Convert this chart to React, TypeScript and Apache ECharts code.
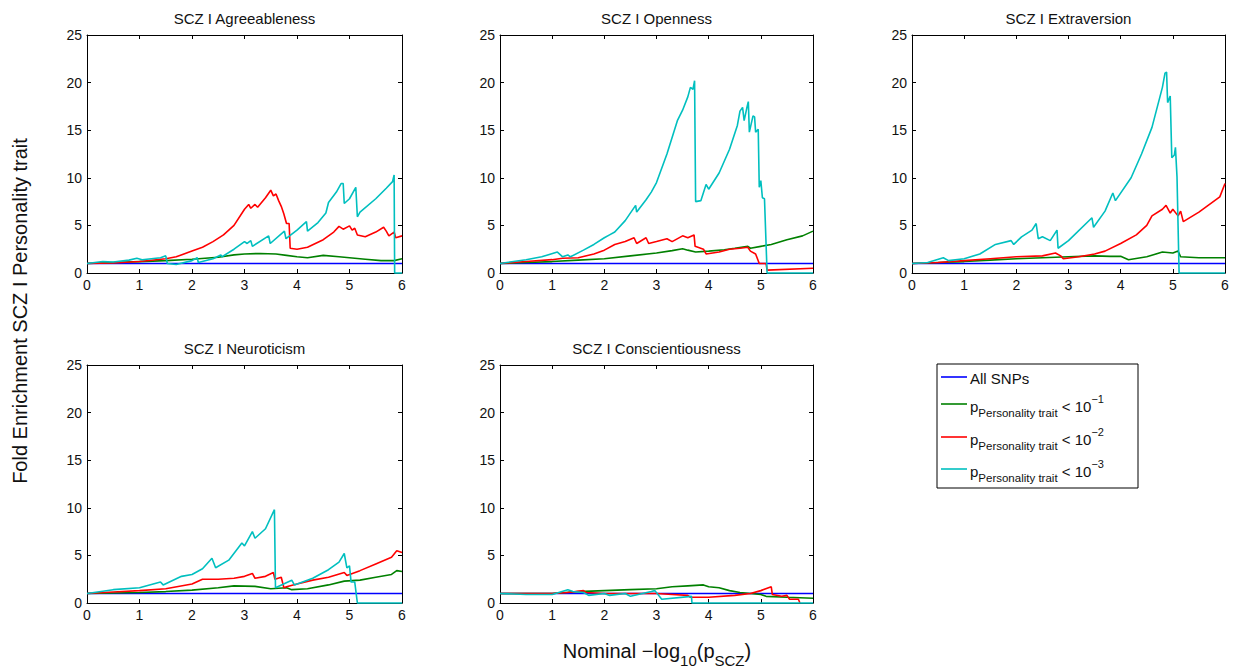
import React, { useEffect, useRef } from "react";
import * as echarts from "echarts";

const FONT = "'Liberation Sans', Arial, Helvetica, sans-serif";

const panelTitles = [
  "SCZ I Agreeableness",
  "SCZ I Openness",
  "SCZ I Extraversion",
  "SCZ I Neuroticism",
  "SCZ I Conscientiousness",
];
const xTicks = [0, 1, 2, 3, 4, 5, 6];
const yTicks = [0, 5, 10, 15, 20, 25];
const allSnps = [[0, 1], [6, 1]];

const agreeGreen = [[0,1],[0.5,1.1],[1,1.2],[1.5,1.3],[2,1.45],[2.5,1.65],[2.8,1.9],[3,2.0],[3.3,2.05],[3.6,2.0],[3.8,1.85],[4,1.7],[4.2,1.6],[4.5,1.85],[4.8,1.7],[5,1.6],[5.3,1.45],[5.6,1.3],[5.85,1.3],[6,1.5]];
const agreeRed = [[0,1],[0.5,1.05],[1,1.2],[1.5,1.5],[1.7,1.7],[2,2.3],[2.2,2.7],[2.4,3.3],[2.6,4.0],[2.8,5.0],[3,6.7],[3.08,7.2],[3.12,6.8],[3.2,7.2],[3.25,6.9],[3.4,7.9],[3.5,8.7],[3.55,8.1],[3.6,8.3],[3.65,7.6],[3.7,7.0],[3.75,6.2],[3.8,5.2],[3.85,5.2],[3.87,2.6],[4,2.5],[4.2,2.7],[4.5,3.5],[4.7,4.3],[4.8,4.9],[4.88,4.6],[5.0,4.95],[5.05,4.5],[5.1,4.7],[5.15,4.0],[5.3,3.8],[5.5,4.3],[5.65,4.8],[5.7,4.4],[5.75,3.9],[5.85,4.3],[5.88,3.7],[6,3.9]];
const agreeCyan = [[0,1],[0.3,1.2],[0.5,1.15],[0.8,1.35],[0.95,1.55],[1.05,1.4],[1.4,1.6],[1.5,1.8],[1.53,1.0],[1.7,0.9],[2.0,1.3],[2.1,1.6],[2.12,1.1],[2.4,1.5],[2.55,1.9],[2.57,1.7],[2.8,2.5],[3.0,3.3],[3.05,3.1],[3.12,3.4],[3.15,2.8],[3.46,3.9],[3.49,3.1],[3.76,4.4],[3.79,3.6],[4.0,4.5],[4.18,5.4],[4.2,4.4],[4.4,5.3],[4.55,6.3],[4.6,7.4],[4.75,8.5],[4.84,9.4],[4.88,9.4],[4.9,7.3],[5.0,7.8],[5.12,9.0],[5.15,5.9],[5.2,6.4],[5.5,7.8],[5.7,8.9],[5.82,9.6],[5.85,10.3],[5.86,0],[6,0]];

const openGreen = [[0,1],[0.5,1.1],[1,1.2],[1.5,1.35],[2,1.5],[2.5,1.8],[3,2.1],[3.3,2.35],[3.5,2.55],[3.6,2.4],[3.75,2.2],[4,2.3],[4.3,2.45],[4.5,2.6],[4.75,2.8],[4.8,2.6],[5,2.8],[5.2,3.0],[5.5,3.5],[5.8,3.9],[6,4.4]];
const openRed = [[0,1],[0.5,1.2],[1,1.4],[1.2,1.55],[1.5,1.6],[1.8,2.0],[2,2.4],[2.2,3.0],[2.4,3.3],[2.57,3.7],[2.62,3.1],[2.8,3.7],[2.85,3.1],[3.0,3.3],[3.2,3.6],[3.3,3.3],[3.5,3.9],[3.6,3.7],[3.72,4.0],[3.74,2.8],[3.9,2.5],[3.95,2.0],[4.2,2.2],[4.4,2.5],[4.6,2.6],[4.75,2.7],[4.8,2.3],[4.9,2.0],[4.97,1.0],[5.1,1.0],[5.12,0.3],[6,0.5]];
const openCyan = [[0,1],[0.5,1.4],[0.8,1.7],[1.1,2.2],[1.2,1.7],[1.3,1.9],[1.35,1.7],[1.6,2.4],[1.8,3.0],[2.0,3.7],[2.1,4.0],[2.2,4.3],[2.4,5.5],[2.6,7.1],[2.62,6.4],[2.8,7.7],[2.9,8.5],[3.0,9.5],[3.2,12.5],[3.4,16.0],[3.5,17.1],[3.6,18.5],[3.65,19.5],[3.7,19.3],[3.73,20.2],[3.75,7.5],[3.85,7.6],[3.95,9.3],[4.0,8.8],[4.2,10.5],[4.4,13.0],[4.55,15.5],[4.6,17.0],[4.65,17.4],[4.68,16.0],[4.73,17.3],[4.76,18.0],[4.78,14.8],[4.85,16.5],[4.88,16.4],[4.9,14.8],[4.95,15.1],[4.97,9.0],[5.0,9.7],[5.03,7.9],[5.07,7.8],[5.12,0],[6,0]];

const extraGreen = [[0,1],[0.5,1.1],[1,1.2],[1.5,1.35],[2,1.5],[2.5,1.6],[3,1.7],[3.5,1.8],[3.8,1.75],[4,1.75],[4.15,1.4],[4.5,1.7],[4.8,2.2],[5.0,2.1],[5.1,2.3],[5.15,1.7],[5.5,1.6],[6,1.6]];
const extraRed = [[0,1],[0.5,1.1],[1,1.3],[1.5,1.5],[2,1.7],[2.5,1.8],[2.75,2.1],[2.85,1.8],[2.9,1.5],[3.2,1.7],[3.5,2.0],[3.7,2.3],[4.0,3.1],[4.3,4.0],[4.5,5.0],[4.6,6.0],[4.8,6.7],[4.87,7.1],[4.95,6.3],[5.0,6.7],[5.1,6.0],[5.15,6.5],[5.2,5.4],[5.5,6.4],[5.9,8.0],[6,9.4]];
const extraCyan = [[0,1],[0.3,1.1],[0.6,1.6],[0.7,1.3],[1.0,1.5],[1.3,2.0],[1.6,3.0],[1.9,3.4],[1.95,3.0],[2.1,3.8],[2.3,4.5],[2.38,5.2],[2.42,3.6],[2.5,3.8],[2.65,3.4],[2.78,4.5],[2.8,2.6],[3.0,3.4],[3.45,5.8],[3.48,4.8],[3.7,6.5],[3.85,8.4],[3.9,7.6],[4.2,10.0],[4.4,12.5],[4.6,15.3],[4.8,19.5],[4.85,21.0],[4.88,21.1],[4.9,17.9],[4.95,18.6],[4.98,12.1],[5.03,12.4],[5.05,13.2],[5.08,10.1],[5.12,0],[6,0]];

const neuroGreen = [[0,1],[0.5,1.05],[1,1.1],[1.5,1.2],[2,1.35],[2.5,1.6],[2.8,1.8],[3.2,1.75],[3.5,1.5],[3.8,1.6],[3.9,1.4],[4.2,1.5],[4.6,1.9],[4.9,2.3],[5.2,2.4],[5.5,2.7],[5.8,3.0],[5.9,3.4],[6,3.3]];
const neuroRed = [[0,1],[0.5,1.15],[1,1.3],[1.5,1.5],[2,2.0],[2.2,2.5],[2.5,2.5],[2.8,2.6],[3.0,2.8],[3.15,3.1],[3.2,2.6],[3.4,2.8],[3.55,3.2],[3.58,2.5],[3.7,2.7],[3.75,1.6],[3.8,1.7],[4.0,2.0],[4.3,2.4],[4.6,2.7],[4.9,3.2],[4.95,2.9],[5.2,3.4],[5.5,4.1],[5.8,4.8],[5.9,5.5],[6,5.3]];
const neuroCyan = [[0,1],[0.5,1.4],[1.0,1.6],[1.4,2.2],[1.45,1.9],[1.8,2.8],[2.0,3.0],[2.2,3.6],[2.38,4.7],[2.45,3.7],[2.7,4.5],[2.95,6.3],[3.0,6.0],[3.15,7.5],[3.2,6.8],[3.4,7.8],[3.57,9.8],[3.59,1.6],[3.9,2.4],[3.95,1.9],[4.3,2.6],[4.6,3.5],[4.8,4.3],[4.9,5.2],[4.95,3.7],[5.0,3.9],[5.03,2.2],[5.1,2.2],[5.15,0],[6,0]];

const consGreen = [[0,1],[0.5,1.0],[1,1.0],[1.5,1.2],[2,1.3],[2.5,1.4],[3,1.5],[3.3,1.7],[3.6,1.8],[3.9,1.9],[4.0,1.7],[4.2,1.6],[4.4,1.3],[4.6,1.1],[5.0,0.9],[5.1,0.7],[5.5,0.6],[6,0.5]];
const consRed = [[0,1],[0.5,1.0],[1,1.0],[1.3,1.1],[1.6,1.3],[1.65,1.1],[2,1.0],[2.5,1.0],[3,1.0],[3.3,0.9],[3.6,0.8],[3.65,0.6],[4.0,0.6],[4.5,0.8],[4.8,1.0],[5.0,1.3],[5.2,1.7],[5.22,0.9],[5.4,0.7],[5.5,0.8],[5.55,0.4],[5.72,0.4],[5.75,0]];
const consCyan = [[0,1],[0.5,0.9],[1,0.9],[1.3,1.4],[1.4,1.2],[1.6,1.1],[1.7,0.8],[2,1.0],[2.1,0.8],[2.4,1.0],[2.5,0.7],[2.9,1.2],[2.97,1.3],[3.1,0.4],[3.67,0.7],[3.68,0],[6,0]];

const panelData = [
  [agreeGreen, agreeRed, agreeCyan],
  [openGreen, openRed, openCyan],
  [extraGreen, extraRed, extraCyan],
  [neuroGreen, neuroRed, neuroCyan],
  [consGreen, consRed, consCyan],
];

const seriesNames = ["All SNPs", "p < 10^-1", "p < 10^-2", "p < 10^-3"];
const colors = ["#0000ff", "#008000", "#ff0000", "#00bfbf"];

const grids = [
  { left: 87, top: 35, width: 315, height: 238 },
  { left: 500, top: 35, width: 313, height: 238 },
  { left: 912, top: 35, width: 313, height: 238 },
  { left: 87, top: 365, width: 315, height: 238 },
  { left: 500, top: 365, width: 313, height: 238 },
];

function buildOption() {
  const xAxis: any[] = [];
  const yAxis: any[] = [];
  const series: any[] = [];
  const graphic: any[] = [];
  const tickStyle = { color: "#000", width: 1 };
  grids.forEach((g, i) => {
    const common = {
      type: "value",
      gridIndex: i,
      splitLine: { show: false },
      axisLine: { show: true, onZero: false, lineStyle: tickStyle },
      axisTick: { show: true, inside: true, length: 4, lineStyle: tickStyle },
    };
    xAxis.push({
      ...common,
      position: "bottom",
      min: xTicks[0],
      max: xTicks[xTicks.length - 1],
      interval: 1,
      axisLabel: { fontSize: 14, color: "#111", margin: 5, fontFamily: FONT },
    });
    xAxis.push({
      ...common,
      position: "top",
      min: xTicks[0],
      max: xTicks[xTicks.length - 1],
      interval: 1,
      axisLabel: { show: false },
    });
    yAxis.push({
      ...common,
      position: "left",
      min: yTicks[0],
      max: yTicks[yTicks.length - 1],
      interval: 5,
      axisLabel: { fontSize: 14, color: "#111", margin: 5, fontFamily: FONT },
    });
    yAxis.push({
      ...common,
      position: "right",
      min: yTicks[0],
      max: yTicks[yTicks.length - 1],
      interval: 5,
      axisLabel: { show: false },
    });
    const lines = [allSnps, ...panelData[i]];
    lines.forEach((d, k) => {
      series.push({
        type: "line",
        name: seriesNames[k],
        xAxisIndex: 2 * i,
        yAxisIndex: 2 * i,
        data: d,
        showSymbol: false,
        symbol: "none",
        clip: false,
        lineStyle: { color: colors[k], width: 1.6 },
        itemStyle: { color: colors[k] },
        z: 2 + k,
      });
    });
    graphic.push({
      type: "text",
      x: g.left + g.width / 2,
      y: g.top - 17,
      style: {
        text: panelTitles[i],
        font: `15px ${FONT}`,
        fill: "#111",
        align: "center",
        verticalAlign: "middle",
        textAlign: "center",
        textVerticalAlign: "middle",
      },
    });
  });

  // y axis label
  graphic.push({
    type: "text",
    x: 20,
    y: 311,
    rotation: Math.PI / 2,
    style: {
      text: "Fold Enrichment SCZ I Personality trait",
      font: `20px ${FONT}`,
      fill: "#111",
      align: "center",
      verticalAlign: "middle",
      textAlign: "center",
      textVerticalAlign: "middle",
    },
  });

  // x axis label
  graphic.push({
    type: "text",
    x: 657,
    y: 651,
    style: {
      text: "{m|Nominal \u2212log}{s|10}{m|(p}{s|SCZ}{m|)}",
      fill: "#111",
      align: "center",
      verticalAlign: "middle",
      textAlign: "center",
      textVerticalAlign: "middle",
      rich: {
        m: { fontSize: 20, fontFamily: FONT, lineHeight: 34, fill: "#111" },
        s: { fontSize: 15, fontFamily: FONT, lineHeight: 12.5, verticalAlign: "bottom", fill: "#111" },
      },
    },
  });

  // legend box
  const lx0 = 937, ly0 = 364, lw = 201, lh = 124;
  graphic.push({
    type: "rect",
    shape: { x: lx0, y: ly0, width: lw, height: lh },
    style: { fill: "#fff", stroke: "#000", lineWidth: 1 },
    z: 10,
  });
  const legendY = [377, 404, 437, 469];
  const exps = ["\u22121", "\u22122", "\u22123"];
  legendY.forEach((y, k) => {
    graphic.push({
      type: "line",
      shape: { x1: 941, y1: y, x2: 967, y2: y },
      style: { stroke: colors[k], lineWidth: 1.6 },
      z: 11,
    });
    if (k === 0) {
      graphic.push({
        type: "text",
        x: 970,
        y: y + 1,
        z: 11,
        style: {
          text: "All SNPs",
          font: `15px ${FONT}`,
          fill: "#111",
          align: "left",
          verticalAlign: "middle",
          textAlign: "left",
          textVerticalAlign: "middle",
        },
      });
    } else {
      graphic.push({
        type: "text",
        x: 970,
        y: y + 2,
        z: 11,
        style: {
          text: `{m|p}{s|Personality trait}{m| < 10}{u|${exps[k - 1]}}`,
          fill: "#111",
          align: "left",
          verticalAlign: "middle",
          textAlign: "left",
          textVerticalAlign: "middle",
          rich: {
            m: { fontSize: 15, fontFamily: FONT, lineHeight: 26, fill: "#111" },
            s: { fontSize: 11.5, fontFamily: FONT, lineHeight: 10, verticalAlign: "bottom", fill: "#111" },
            u: { fontSize: 11, fontFamily: FONT, lineHeight: 10, verticalAlign: "top", fill: "#111" },
          },
        },
      });
    }
  });

  return {
    animation: false,
    backgroundColor: "#fff",
    grid: grids.map((g) => ({ ...g, containLabel: false })),
    xAxis,
    yAxis,
    series,
    graphic: { elements: graphic },
  };
}

export default function App() {
  const ref = useRef<HTMLDivElement>(null);
  useEffect(() => {
    if (!ref.current) return;
    const chart = echarts.init(ref.current, null, { renderer: "svg" });
    chart.setOption(buildOption() as any);
    return () => chart.dispose();
  }, []);
  return (
    <div
      ref={ref}
      style={{ position: "absolute", left: 0, top: 0, width: 1236, height: 671, background: "#fff" }}
    />
  );
}
